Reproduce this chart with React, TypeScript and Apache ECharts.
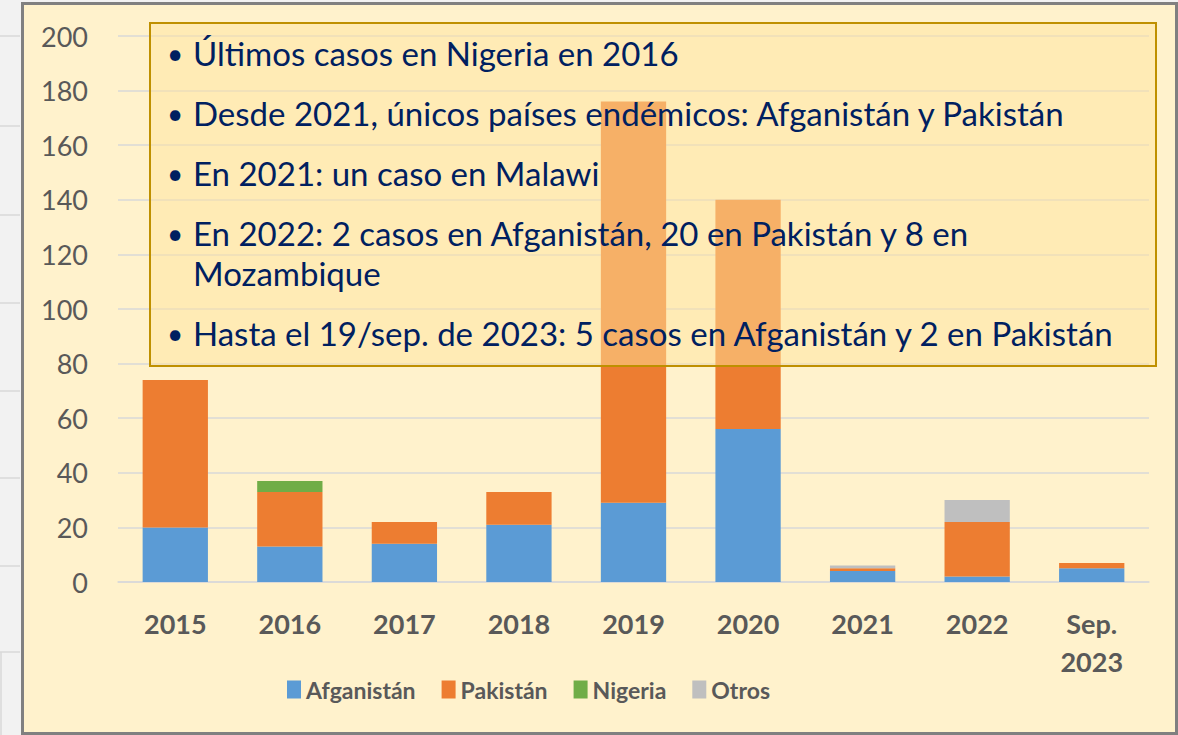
import React, { useEffect, useRef } from "react";
import * as echarts from "echarts";

const categories = ["2015", "2016", "2017", "2018", "2019", "2020", "2021", "2022", "Sep.\n2023"];
const afganistan = [20, 13, 14, 21, 29, 56, 4, 2, 5];
const pakistan = [54, 20, 8, 12, 147, 84, 1, 20, 2];
const nigeria = [0, 4, 0, 0, 0, 0, 0, 0, 0];
const otros = [0, 0, 0, 0, 0, 0, 1, 8, 0];
const seriesNames = ["Afganistán", "Pakistán", "Nigeria", "Otros"];
const seriesColors = ["#5B9BD5", "#ED7D31", "#70AD47", "#BFBFBF"];
const yMin = 0;
const yMax = 200;
const yStep = 20;

// annotation lines: [bullet?, text]
const notes: [boolean, string][] = [
  [true, "Últimos casos en Nigeria en 2016"],
  [true, "Desde 2021, únicos países endémicos: Afganistán y Pakistán"],
  [true, "En 2021: un caso en Malawi"],
  [true, "En 2022: 2 casos en Afganistán, 20 en Pakistán y 8 en"],
  [false, "Mozambique"],
  [true, "Hasta el 19/sep. de 2023: 5 casos en Afganistán y 2 en Pakistán"],
];
const noteY = [53, 113, 173, 233, 273, 333];
const sideLineY = [36, 126, 215, 303, 391, 478, 566, 652];

const FONT = "Lato, 'Open Sans', sans-serif";

export default function App() {
  const ref = useRef<HTMLDivElement>(null);
  useEffect(() => {
    if (!ref.current) return;
    const chart = echarts.init(ref.current, undefined, { renderer: "svg" });
    const data = [afganistan, pakistan, nigeria, otros];
    const graphic: any[] = [];
    sideLineY.forEach((y) => {
      graphic.push({
        type: "line",
        shape: { x1: 0, y1: y, x2: 20, y2: y },
        style: { stroke: "#D9D9D9", lineWidth: 1.5 },
        silent: true,
      });
    });
    graphic.push({
      type: "line",
      shape: { x1: 1, y1: 652, x2: 1, y2: 735 },
      style: { stroke: "#D9D9D9", lineWidth: 1.5 },
      silent: true,
    });
    graphic.push({
      type: "rect",
      z: 100,
      shape: { x: 150, y: 23, width: 1006, height: 343 },
      style: { fill: "rgba(255,228,158,0.5)", stroke: "#BF9000", lineWidth: 2 },
      silent: true,
    });
    notes.forEach(([b, t], i) => {
      if (b) {
        graphic.push({
          type: "text",
          z: 101,
          x: 167,
          y: noteY[i],
          style: {
            text: "•",
            fill: "#002060",
            font: `28px ${FONT}`,
            verticalAlign: "middle",
            align: "left",
          },
          silent: true,
        });
      }
      graphic.push({
        type: "text",
        z: 101,
        x: 193,
        y: noteY[i],
        style: {
          text: t,
          fill: "#002060",
          font: `33px ${FONT}`,
          verticalAlign: "middle",
          align: "left",
        },
        silent: true,
      });
    });

    chart.setOption({
      animation: false,
      backgroundColor: "transparent",
      textStyle: { fontFamily: FONT },
      grid: { left: 118, right: 29, top: 36, bottom: 153 },
      legend: {
        left: 287,
        top: 678,
        padding: 0,
        itemWidth: 14,
        itemHeight: 18,
        itemGap: 26,
        icon: "rect",
        data: seriesNames,
        textStyle: { color: "#595959", fontSize: 23, fontWeight: "bold", fontFamily: FONT },
      },
      xAxis: {
        type: "category",
        data: categories,
        axisLine: { lineStyle: { color: "#D9D9D9", width: 1.5 } },
        axisTick: { show: false },
        axisLabel: {
          color: "#595959",
          fontSize: 27,
          fontWeight: "bold",
          fontFamily: FONT,
          margin: 22,
          lineHeight: 38,
          interval: 0,
        },
      },
      yAxis: {
        type: "value",
        min: yMin,
        max: yMax,
        interval: yStep,
        axisLine: { show: false },
        axisTick: { show: false },
        splitLine: { lineStyle: { color: "#D9D9D9", width: 1.5 } },
        axisLabel: { color: "#595959", fontSize: 27, fontFamily: FONT, margin: 30 },
      },
      series: seriesNames.map((name, i) => ({
        name,
        type: "bar",
        stack: "total",
        data: data[i],
        barCategoryGap: "43%",
        itemStyle: { color: seriesColors[i] },
      })),
      graphic,
    });
    return () => chart.dispose();
  }, []);
  return (
    <div style={{ position: "fixed", left: 0, top: 0, width: 1178, height: 735, background: "#F2F2F2" }}>
      <div
        style={{
          position: "absolute",
          left: 21,
          top: 2,
          width: 1157,
          height: 733,
          boxSizing: "border-box",
          border: "3px solid #808080",
          background: "#FFF2CC",
        }}
      />
      <div ref={ref} style={{ position: "absolute", left: 0, top: 0, width: 1178, height: 735 }} />
    </div>
  );
}
